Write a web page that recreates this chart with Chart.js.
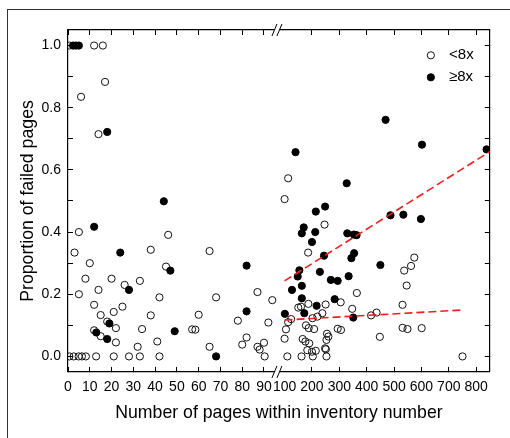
<!DOCTYPE html>
<html>
<head>
<meta charset="utf-8">
<script src="https://cdn.jsdelivr.net/npm/chart.js@4.4.1/dist/chart.umd.min.js"></script>
<style>
  html, body { margin: 0; padding: 0; background: #fff; }
  #wrap { position: relative; width: 510px; height: 438px; overflow: hidden; }
  #frame { position: absolute; left: 7px; top: 9px; width: 700px; height: 700px;
           border-left: 1px solid #333; border-top: 1px solid #333; }
  #chart { position: absolute; left: 0; top: 0; }
</style>
</head>
<body>
<div id="wrap">
  <div id="frame"></div>
  <canvas id="chart" width="510" height="438"></canvas>
</div>
<script>
// <8x inventory numbers (open circles)
const lessPages = [
  0.6, 12, 16, 17, 6, 14, 5, 3, 10, 8, 5, 12, 14, 15, 18, 12, 15, 20, 21, 22,
  22, 25, 26, 33, 34, 32, 38, 38, 42, 41, 45, 46, 57, 58.5, 60, 65, 65, 68, 78, 80,
  82, 87, 87, 88, 90, 92, 93.8, 0.6, 2.6, 4.9, 6.4, 8.2, 12.9, 21, 28, 33, 42, 90.3,
  100, 113, 246, 186, 364, 305, 250, 187, 150, 160, 347, 124, 113, 105, 100, 202, 220, 238, 178, 188,
  208, 166, 176, 190, 183, 200, 214, 251, 162, 203, 253, 110, 248, 255, 260, 253, 294, 306, 416, 436,
  448, 531, 531, 549, 601, 546, 537, 562, 574, 750
];
const lessShare = [
  1.0, 1.0, 1.0, 0.883, 0.835, 0.715, 0.40, 0.334, 0.30, 0.25, 0.20, 0.166, 0.214, 0.133, 0.112, 0.084, 0.065, 0.25, 0.143, 0.091,
  0.045, 0.16, 0.23, 0.243, 0.088, 0.031, 0.343, 0.132, 0.19, 0.048, 0.289, 0.391, 0.087, 0.086, 0.134, 0.339, 0.031, 0.19, 0.115, 0.038,
  0.061, 0.207, 0.031, 0.022, 0.044, 0.109, 0.181, 0, 0, 0, 0, 0, 0, 0, 0, 0, 0, 0,
  0.506, 0.573, 0.424, 0.334, 0.204, 0.174, 0.167, 0.169, 0.157, 0.16, 0.153, 0.12, 0.11, 0.087, 0.057, 0.123, 0.128, 0.139, 0.1, 0.091,
  0.088, 0.056, 0.048, 0.042, 0.02, 0.015, 0.018, 0.023, 0, 0, 0, 0, 0.026, 0.073, 0.064, 0.053, 0.089, 0.085, 0.132, 0.141,
  0.063, 0.166, 0.092, 0.088, 0.091, 0.228, 0.276, 0.291, 0.318, 0
];

// >=8x inventory numbers (filled circles)
const morePages = [
  2.3, 3.6, 5, 18, 12, 24, 28, 44, 47, 19, 13, 18, 49, 68, 82, 82,
  140, 327, 469, 602, 838, 487, 534, 598, 450, 214, 248, 170, 163, 212, 200, 329, 353, 363, 244, 344,
  354, 154, 148, 229, 269, 294, 334, 127, 163, 163, 283, 172, 217, 101, 351
];
const moreShare = [
  1, 1, 1, 0.722, 0.417, 0.334, 0.214, 0.499, 0.276, 0.106, 0.077, 0.056, 0.081, 0, 0.292, 0.145,
  0.657, 0.557, 0.761, 0.681, 0.666, 0.454, 0.456, 0.442, 0.294, 0.466, 0.482, 0.415, 0.396, 0.40, 0.368, 0.396, 0.392, 0.39, 0.324, 0.316,
  0.332, 0.277, 0.257, 0.272, 0.246, 0.243, 0.258, 0.214, 0.227, 0.187, 0.184, 0.139, 0.163, 0.137, 0.125
];

// fitted trend lines (right part of the axis)
const fitMorePages = [100, 850];
const fitMoreShare = [0.243, 0.659];
const fitLessPages = [100, 745];
const fitLessShare = [0.117, 0.149];

const xTicksLeft = [0, 10, 20, 30, 40, 50, 60, 70, 80, 90];
const xTicksRight = [100, 200, 300, 400, 500, 600, 700, 800];
const yTicks = [0, 0.1, 0.2, 0.3, 0.4, 0.5, 0.6, 0.7, 0.8, 0.9, 1.0];

const BREAK = 96; // values above this go to the right part of the broken axis

function pts(xs, ys, right) {
  const out = [];
  xs.forEach((x, i) => {
    if ((x > BREAK) === right) out.push({ x: x, y: ys[i] });
  });
  return out;
}

Chart.defaults.font.family = '"Liberation Sans", Arial, sans-serif';
Chart.defaults.color = '#000';

const tickFont = { size: 14 };
const titleFont = { size: 17.7 };
const dotR = 3.6;

function xAxis(position, ticks, min, max, stackWeight, weight, showLabels) {
  return {
    type: 'linear',
    position: position,
    stack: position,
    stackWeight: stackWeight,
    weight: weight,
    min: min,
    max: max,
    afterBuildTicks: (s) => { s.ticks = ticks.map(v => ({ value: v })); },
    afterFit: (s) => { s.height = 30; },
    grid: {
      drawOnChartArea: false,
      tickLength: -5,
      lineWidth: 1,
      color: (c) => (c.tick && c.tick.value === 100 ? 'rgba(0,0,0,0)' : '#000')
    },
    border: { display: true, color: '#000', width: 1.2 },
    ticks: {
      display: showLabels,
      padding: 11.3,
      font: tickFont,
      color: '#000',
      maxRotation: 0,
      autoSkip: false,
      callback: (v) => String(v)
    }
  };
}

function yAxis(position, showLabels, width) {
  return {
    type: 'linear',
    position: position,
    min: -0.05,
    max: 1.05,
    afterBuildTicks: (s) => { s.ticks = yTicks.map(v => ({ value: v })); },
    afterFit: (s) => { s.width = width; },
    grid: { drawOnChartArea: false, tickLength: -5, lineWidth: 1, color: '#000' },
    border: { display: true, color: '#000', width: 1.2 },
    ticks: {
      display: showLabels,
      padding: 12,
      font: tickFont,
      color: '#000',
      autoSkip: false,
      callback: (v) => (Math.round(v * 10) % 2 === 0 ? v.toFixed(1) : '')
    }
  };
}

const yLeft = yAxis('left', true, 68);
yLeft.title = {
  display: true,
  text: 'Proportion of failed pages',
  font: titleFont,
  color: '#000',
  padding: { top: 17, bottom: 0 }
};

// draws the "//" axis break marks
const axisBreak = {
  id: 'axisBreak',
  afterDraw(chart) {
    const { ctx, chartArea } = chart;
    const bx = chart.scales.xL.right;
    ctx.save();
    [chartArea.top, chartArea.bottom].forEach((y) => {
      ctx.fillStyle = '#fff';
      ctx.fillRect(bx - 3.5, y - 1.5, 5, 3);
      ctx.strokeStyle = '#000';
      ctx.lineWidth = 1;
      ctx.beginPath();
      ctx.moveTo(bx - 6, y + 6); ctx.lineTo(bx - 1, y - 6);
      ctx.moveTo(bx - 1, y + 6); ctx.lineTo(bx + 4, y - 6);
      ctx.stroke();
    });
    ctx.restore();
  }
};

// put the legend in the upper right corner of the plot
const legendSpot = {
  id: 'legendSpot',
  afterLayout(chart) {
    const lg = chart.legend;
    if (!lg) return;
    const w = lg.width;
    lg.left = chart.chartArea.right - 72.5;
    lg.right = lg.left + w;
    lg.top = chart.chartArea.top + 10.8;
  }
};

new Chart(document.getElementById('chart'), {
  type: 'scatter',
  data: {
    datasets: [
      {
        label: '',
        data: fitMorePages.map((x, i) => ({ x: x, y: fitMoreShare[i] })),
        xAxisID: 'xR',
        showLine: true,
        pointRadius: 0,
        borderColor: '#f01e1e',
        borderWidth: 1.6,
        borderDash: [8, 4]
      },
      {
        label: '',
        data: fitLessPages.map((x, i) => ({ x: x, y: fitLessShare[i] })),
        xAxisID: 'xR',
        showLine: true,
        pointRadius: 0,
        borderColor: '#f01e1e',
        borderWidth: 1.6,
        borderDash: [8, 4]
      },
      {
        label: ' \u22658x',
        data: pts(morePages, moreShare, false),
        xAxisID: 'xL',
        pointRadius: dotR,
        borderWidth: 1,
        borderColor: '#000',
        backgroundColor: '#000'
      },
      {
        label: '',
        data: pts(morePages, moreShare, true),
        xAxisID: 'xR',
        pointRadius: dotR,
        borderWidth: 1,
        borderColor: '#000',
        backgroundColor: '#000'
      },
      {
        label: ' <8x',
        data: pts(lessPages, lessShare, false),
        xAxisID: 'xL',
        pointRadius: dotR,
        borderWidth: 1,
        borderColor: '#111',
        backgroundColor: 'rgba(255,255,255,0)'
      },
      {
        label: '',
        data: pts(lessPages, lessShare, true),
        xAxisID: 'xR',
        pointRadius: dotR,
        borderWidth: 1,
        borderColor: '#111',
        backgroundColor: 'rgba(255,255,255,0)'
      }
    ]
  },
  options: {
    responsive: false,
    animation: false,
    devicePixelRatio: 1,
    layout: { padding: 0 },
    scales: {
      xL: xAxis('bottom', xTicksLeft, 0, 96.4, 212, 0, true),
      xR: xAxis('bottom', xTicksRight, 75.7, 850, 214, 0.1, true),
      xLt: xAxis('top', xTicksLeft, 0, 96.4, 212, 0.1, false),
      xRt: xAxis('top', xTicksRight, 75.7, 850, 214, 0, false),
      y: yLeft,
      y2: yAxis('right', false, 16)
    },
    plugins: {
      tooltip: { enabled: false },
      legend: {
        position: 'chartArea',
        align: 'start',
        labels: {
          usePointStyle: true,
          boxWidth: 13,
          boxHeight: dotR * Math.SQRT2,
          padding: 7,
          color: '#000',
          font: { size: 15 },
          filter: (item) => item.text !== '',
          sort: (a, b) => b.datasetIndex - a.datasetIndex
        }
      },
      title: {
        display: true,
        text: 'Number of pages within inventory number',
        position: 'bottom',
        fullSize: false,
        color: '#000',
        font: { size: 17.7, weight: 'normal' },
        padding: { top: 0.4, bottom: 14.4 }
      }
    }
  },
  plugins: [axisBreak, legendSpot]
});
</script>
</body>
</html>
